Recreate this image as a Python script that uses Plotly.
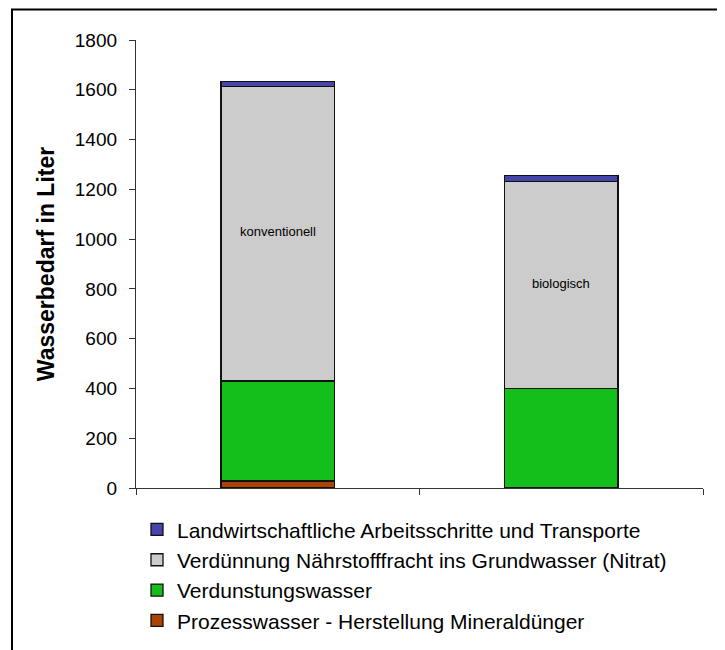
import plotly.graph_objects as go

# data
categories = ["konventionell", "biologisch"]
series_names = [
    "Prozesswasser - Herstellung Mineraldünger",
    "Verdunstungswasser",
    "Verdünnung Nährstofffracht ins Grundwasser (Nitrat)",
    "Landwirtschaftliche Arbeitsschritte und Transporte",
]
prozesswasser = [28, 0]
verdunstung = [402, 400]
verduennung = [1184, 832]
landwirtschaft = [18, 24]
series_values = [prozesswasser, verdunstung, verduennung, landwirtschaft]
series_colors = ["#AA4400", "#15BF1B", "#CCCCCC", "#4545AA"]

label_y = [1030, 820]
y_ticks = list(range(0, 1801, 200))

# page puts the figure 8px in from the top-left corner
OFF = 8
W, H = 725, 650
L, R, T, B = 128, 30, 31.5, 170.3
pw, ph = W - L - R, H - T - B


def px(x):
    return (x - OFF - L) / pw


def py(y):
    return (H - B - (y - OFF)) / ph


fig = go.Figure()

for name, vals, col in zip(series_names, series_values, series_colors):
    fig.add_trace(
        go.Bar(
            x=categories,
            y=vals,
            name=name,
            marker=dict(color=col, line=dict(color="#111111", width=1.3)),
        )
    )

for cat, yv in zip(categories, label_y):
    fig.add_annotation(
        x=cat, y=yv, text=cat, showarrow=False,
        font=dict(family="Arial, Liberation Sans", size=13, color="#000000"),
    )

# outer chart border
fig.add_shape(
    type="rect", xref="paper", yref="paper",
    x0=px(12), x1=px(718), y0=py(9), y1=py(680),
    line=dict(color="#000000", width=2), fillcolor="rgba(0,0,0,0)",
)

fig.update_layout(
    width=W,
    height=H,
    barmode="stack",
    bargap=0.6,
    paper_bgcolor="#FFFFFF",
    plot_bgcolor="#FFFFFF",
    font=dict(family="Arial, Liberation Sans", color="#000000"),
    margin=dict(l=L, r=R, t=T, b=B, autoexpand=False),
    showlegend=True,
    legend=dict(
        x=px(137), y=py(509), xanchor="left", yanchor="top",
        traceorder="reversed",
        font=dict(size=21, color="#000000"),
        bgcolor="rgba(0,0,0,0)",
        itemwidth=30,
        tracegroupgap=0,
    ),
)

fig.update_xaxes(
    showline=True, linecolor="#333333", linewidth=1.3,
    ticks="outside", tickson="boundaries", ticklen=6, tickcolor="#333333",
    showticklabels=False, showgrid=False, zeroline=False,
)

fig.update_yaxes(
    range=[0, 1800], tickvals=y_ticks,
    showline=True, linecolor="#333333", linewidth=1.3,
    ticks="outside", ticklen=6, tickcolor="#333333",
    ticklabelstandoff=8,
    tickfont=dict(size=19, color="#000000"),
    showgrid=False, zeroline=False,
    title=dict(text="<b>Wasserbedarf in Liter</b>", font=dict(size=23), standoff=13),
)

fig.write_html("out.html")
